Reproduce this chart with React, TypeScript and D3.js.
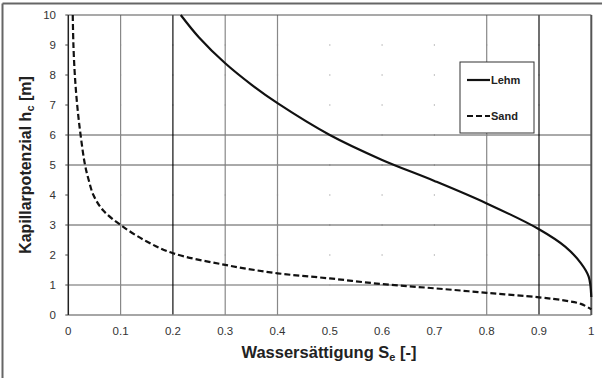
import React from "react";
import * as d3 from "d3";

const xTicks = [0, 0.1, 0.2, 0.3, 0.4, 0.5, 0.6, 0.7, 0.8, 0.9, 1];
const xTickLabels = ["0", "0.1", "0.2", "0.3", "0.4", "0.5", "0.6", "0.7", "0.8", "0.9", "1"];
const yTicks = [0, 1, 2, 3, 4, 5, 6, 7, 8, 9, 10];

// gridlines visible in the scanned reference
const vGridGray = [0.1, 0.3, 0.4, 0.8];
const vGridDark = [0.2, 0.9];
const hGridDark = [3, 5, 6];
const hGridGray = [1];

const lehmX = [0.215, 0.25, 0.3, 0.35, 0.4, 0.5, 0.6, 0.7, 0.8, 0.9, 0.95, 0.98, 0.995, 1.0];
const lehmY = [10, 9.25, 8.39, 7.68, 7.06, 6.0, 5.17, 4.47, 3.72, 2.86, 2.28, 1.73, 1.28, 0.6];

const sandX = [0.0085, 0.0098, 0.0125, 0.017, 0.0235, 0.032, 0.039, 0.048, 0.066, 0.1, 0.15, 0.2, 0.3, 0.4, 0.5, 0.6, 0.7, 0.8, 0.9, 0.95, 0.98, 1.0];
const sandY = [10, 9, 8, 7, 6, 5, 4.5, 4, 3.5, 3.0, 2.45, 2.06, 1.67, 1.39, 1.22, 1.03, 0.89, 0.74, 0.59, 0.48, 0.37, 0.19];

const legendLabels = ["Lehm", "Sand"];

export default function App() {
  const W = 602, H = 378;
  const x = d3.scaleLinear().domain([0, 1]).range([68.3, 591.3]);
  const y = d3.scaleLinear().domain([0, 10]).range([315, 15]);
  const line = d3.line<[number, number]>().x(d => x(d[0])).y(d => y(d[1])).curve(d3.curveCatmullRom.alpha(0.5));
  const lehm = line(lehmX.map((v, i) => [v, lehmY[i]] as [number, number])) || "";
  const sand = line(sandX.map((v, i) => [v, sandY[i]] as [number, number])) || "";
  const font = "'Liberation Sans', Arial, sans-serif";
  const dots: JSX.Element[] = [];
  xTicks.slice(1, -1).forEach(xv => {
    yTicks.slice(1, -1).forEach(yv => {
      dots.push(<rect key={`d${xv}-${yv}`} x={x(xv) - 0.6} y={y(yv) - 0.6} width={1.2} height={1.2} fill="#aaa" />);
    });
  });
  return (
    <svg width={W} height={H} style={{ position: "absolute", left: 0, top: 0 }}>
      <rect x={0} y={0} width={W} height={H} fill="#fff" />
      {/* outer frame */}
      <line x1={2.5} x2={602} y1={3.5} y2={3.5} stroke="#666" strokeWidth={2} />
      <line x1={2.5} x2={2.5} y1={3.5} y2={378} stroke="#666" strokeWidth={2} />
      {dots}
      {hGridGray.map(v => <line key={`hg${v}`} x1={x(0)} x2={x(1)} y1={y(v)} y2={y(v)} stroke="#999" strokeWidth={1.3} />)}
      {hGridDark.map(v => <line key={`hd${v}`} x1={x(0)} x2={x(1)} y1={y(v)} y2={y(v)} stroke="#555" strokeWidth={1} />)}
      {vGridGray.map(v => <line key={`vg${v}`} x1={x(v)} x2={x(v)} y1={y(10)} y2={y(0)} stroke="#888" strokeWidth={1.2} />)}
      {vGridDark.map(v => <line key={`vd${v}`} x1={x(v)} x2={x(v)} y1={y(10)} y2={y(0)} stroke="#111" strokeWidth={1.2} />)}
      {/* plot frame */}
      <line x1={x(0)} x2={x(1)} y1={y(10)} y2={y(10)} stroke="#555" strokeWidth={1.2} />
      <line x1={x(0)} x2={x(1)} y1={y(0)} y2={y(0)} stroke="#888" strokeWidth={1.5} />
      <line x1={x(1)} x2={x(1)} y1={y(10)} y2={y(0)} stroke="#555" strokeWidth={2} />
      <line x1={x(0)} x2={x(0)} y1={y(10)} y2={y(0)} stroke="#222" strokeWidth={1.5} />
      {yTicks.map(v => <line key={`yt${v}`} x1={x(0) - 3} x2={x(0)} y1={y(v)} y2={y(v)} stroke="#444" strokeWidth={1} />)}
      {yTicks.map(v => (
        <text key={`yl${v}`} x={56} y={y(v)} dy="0.35em" textAnchor="end" fontFamily={font} fontSize={11.5} fill="#333">{v}</text>
      ))}
      {xTicks.map((v, i) => (
        <text key={`xl${v}`} x={x(v)} y={335} textAnchor="middle" fontFamily={font} fontSize={11.5} fill="#333">{xTickLabels[i]}</text>
      ))}
      <path d={lehm} fill="none" stroke="#111" strokeWidth={2.2} />
      <path d={sand} fill="none" stroke="#111" strokeWidth={2.2} strokeDasharray="6,3" />
      {/* legend */}
      <rect x={460} y={62} width={74} height={71} fill="#fff" stroke="#333" strokeWidth={1} />
      <line x1={467} x2={490} y1={80} y2={80} stroke="#111" strokeWidth={2.2} />
      <line x1={467} x2={490} y1={116} y2={116} stroke="#111" strokeWidth={2.2} strokeDasharray="6,3" />
      <text x={491} y={80} dy="0.35em" fontFamily={font} fontSize={11} fontWeight="bold" fill="#222">{legendLabels[0]}</text>
      <text x={491} y={116} dy="0.35em" fontFamily={font} fontSize={11} fontWeight="bold" fill="#222">{legendLabels[1]}</text>
      {/* axis titles */}
      <text x={329} y={358} textAnchor="middle" fontFamily={font} fontSize={16.5} fontWeight="bold" fill="#222">
        Wassersättigung S<tspan fontSize={11} dy={3}>e</tspan><tspan dy={-3}> [-]</tspan>
      </text>
      <text transform={`translate(31,${y(5)}) rotate(-90)`} textAnchor="middle" fontFamily={font} fontSize={16} fontWeight="bold" fill="#222">
        Kapillarpotenzial h<tspan fontSize={11} dy={3}>c</tspan><tspan dy={-3}> [m]</tspan>
      </text>
    </svg>
  );
}
